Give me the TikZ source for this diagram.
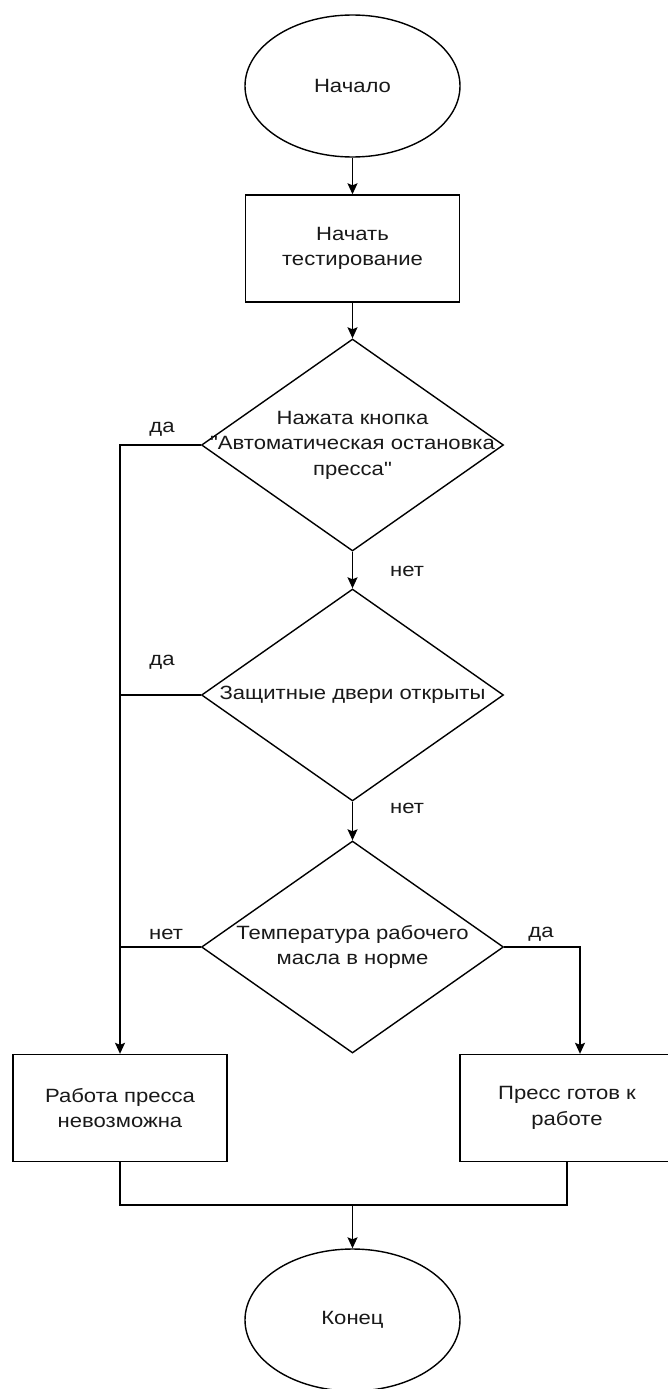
\documentclass[tikz,border=0pt]{standalone}
\usepackage{fontspec}
\newfontfamily\lsans{Liberation Sans}[FakeStretch=1.15]
\usetikzlibrary{shapes.geometric,arrows.meta}
\begin{document}
\begin{tikzpicture}[x=1pt,y=-1pt,
  every node/.style={font=\lsans\fontsize{19.2}{25.5}\selectfont, text=black!90},
  lw/.style={line width=1.4pt},
  term/.style={ellipse, draw, lw, minimum width=215pt, minimum height=142pt, inner sep=0pt},
  proc/.style={rectangle, draw, lw, minimum width=214pt, minimum height=107pt, inner sep=0pt, align=center},
  dec/.style={diamond, draw, lw, minimum width=302pt, minimum height=212pt, inner sep=0pt},
  dtext/.style={align=center, inner sep=0pt},
  lbl/.style={inner sep=0pt},
  arr/.style={lw, -{Stealth[length=11pt,width=10pt,inset=2pt]}},
  conn/.style={lw}
]
\useasboundingbox (0,0) rectangle (668,1389);
\clip (0,0) rectangle (668,1389);
\fill[white] (0,0) rectangle (668,1389);

\node[term] (start) at (352.5,86) {Начало};
\node[proc] (r1) at (352.5,248.5) {Начать\\тестирование};

\node[dec] (d1) at (352.5,445) {};
\node[dtext] (t1) at (d1.center) {Нажата кнопка\\"Автоматическая остановка\\пресса"};

\node[dec] (d2) at (352.5,695) {};
\node[dtext] (t2) at (d2.center) {Защитные двери открыты};

\node[dec] (d3) at (352.5,947) {};
\node[dtext] (t3) at (d3.center) {Температура рабочего\\масла в норме};

\node[proc] (bad) at (120,1108) {Работа пресса\\невозможна};
\node[proc] (good) at (567,1108) {Пресс готов к\\работе};

\node[term] (end) at (352.5,1320) {Конец};

\coordinate (mj) at (352.5,1205);

% labels
\node[lbl] (l1) at (162,429) {да};
\node[lbl] (l2) at (407,571) {нет};
\node[lbl] (l3) at (162,662) {да};
\node[lbl] (l4) at (407,808) {нет};
\node[lbl] (l5) at (166,934) {нет};
\node[lbl] (l6) at (541,934) {да};

% connectors
\draw[arr] (start) -- (r1);
\draw[arr] (r1) -- (d1.north);
\draw[arr] (d1.south) -- (d2.north);
\draw[arr] (d2.south) -- (d3.north);
\draw[arr] (d1.west) -| (bad.north);
\draw[conn] (d2.west) -- (d2.west -| bad.north);
\draw[conn] (d3.west) -- (d3.west -| bad.north);
\draw[arr] (d3.east) -| ([xshift=13pt]good.north);
\draw[conn] (bad.south) |- (mj);
\draw[conn] (good.south) |- (mj);
\draw[arr] (mj) -- (end.north);
\end{tikzpicture}
\end{document}
